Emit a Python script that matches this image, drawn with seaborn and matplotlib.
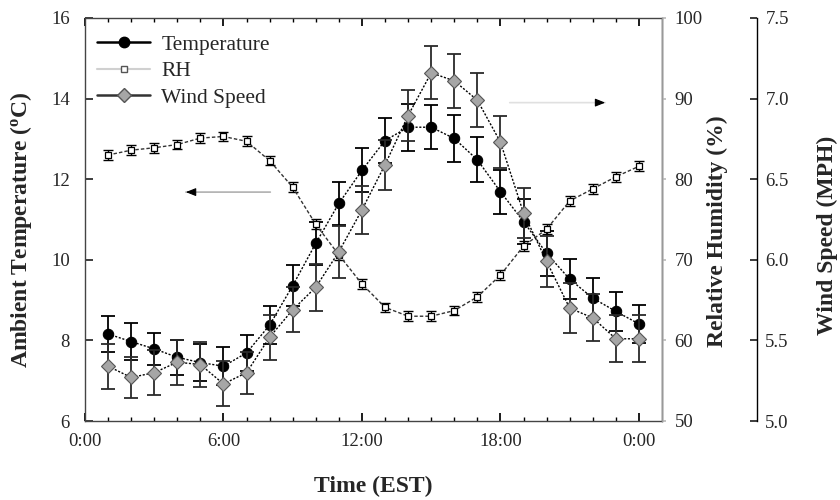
import matplotlib
matplotlib.use("Agg")
import matplotlib.pyplot as plt
from matplotlib.lines import Line2D
import seaborn as sns
import numpy as np

# ---- data ----
hours = [1, 2, 3, 4, 5, 6, 7, 8, 9, 10, 11, 12, 13, 14, 15, 16, 17, 18, 19, 20, 21, 22, 23, 24]
temperature = [8.16, 7.97, 7.79, 7.58, 7.45, 7.36, 7.69, 8.38, 9.36, 10.41, 11.40, 12.22,
               12.96, 13.29, 13.29, 13.01, 12.48, 11.69, 10.95, 10.16, 9.52, 9.05, 8.72, 8.41]
temperature_err = [0.45, 0.45, 0.40, 0.44, 0.45, 0.47, 0.45, 0.48, 0.51, 0.54, 0.53, 0.55,
                   0.55, 0.58, 0.55, 0.58, 0.56, 0.55, 0.55, 0.55, 0.50, 0.50, 0.49, 0.47]
rh = [83.0, 83.6, 83.9, 84.3, 85.1, 85.3, 84.7, 82.3, 79.0, 74.4, 70.6, 67.0,
      64.1, 63.0, 63.0, 63.7, 65.4, 68.1, 71.7, 73.8, 77.3, 78.8, 80.3, 81.6]
rh_err = [0.6, 0.6, 0.6, 0.6, 0.6, 0.6, 0.6, 0.6, 0.6, 0.6, 0.6, 0.6,
          0.6, 0.6, 0.6, 0.6, 0.6, 0.6, 0.6, 0.6, 0.6, 0.6, 0.6, 0.6]
wind = [5.34, 5.27, 5.30, 5.365, 5.35, 5.23, 5.30, 5.52, 5.69, 5.83, 6.05, 6.31,
        6.59, 6.895, 7.16, 7.11, 6.99, 6.73, 6.29, 5.99, 5.70, 5.64, 5.51, 5.51]
wind_err = [0.14, 0.13, 0.14, 0.14, 0.14, 0.14, 0.13, 0.14, 0.14, 0.145, 0.16, 0.15,
            0.155, 0.16, 0.165, 0.167, 0.167, 0.163, 0.155, 0.16, 0.155, 0.145, 0.145, 0.145]

x_tick_pos = [0, 6, 12, 18, 24]
x_tick_labels = ["0:00", "6:00", "12:00", "18:00", "0:00"]
temp_ticks = [6, 8, 10, 12, 14, 16]
rh_ticks = [50, 60, 70, 80, 90, 100]
wind_ticks = [5.0, 5.5, 6.0, 6.5, 7.0, 7.5]
series_names = ["Temperature", "RH", "Wind Speed"]

# ---- style ----
sns.set_theme(style="ticks")
plt.rcParams["font.family"] = ["Liberation Serif", "DejaVu Serif"]
plt.rcParams["mathtext.fontset"] = "custom"
plt.rcParams["mathtext.rm"] = "Liberation Serif"
plt.rcParams["mathtext.bf"] = "Liberation Serif:bold"
plt.rcParams["axes.linewidth"] = 1.0

TICK_FS = 13.5
LABEL_FS = 17

fig = plt.figure(figsize=(8.4, 5.0), dpi=100)
ax = fig.add_axes([85 / 840, 1 - 421 / 500, 577 / 840, 403 / 500])
ax2 = ax.twinx()
ax3 = ax.twinx()
ax3.spines["right"].set_position(("axes", 1.1646))

# ---- temperature (left axis) ----
ax.errorbar(hours, temperature, yerr=temperature_err, fmt="none", ecolor="black",
            elinewidth=1.3, capsize=5, capthick=1.3, zorder=2)
sns.lineplot(x=hours, y=temperature, ax=ax, color="black", linestyle=(0, (1.5, 1.2)),
             linewidth=1.0, marker="o", markersize=7.5, markerfacecolor="black",
             markeredgecolor="black", zorder=3)

# ---- RH (middle axis) ----
ax2.errorbar(hours, rh, yerr=rh_err, fmt="none", ecolor="black",
             elinewidth=1.0, capsize=3.5, capthick=1.0, zorder=2)
sns.lineplot(x=hours, y=rh, ax=ax2, color="#333333", linestyle=(0, (2.5, 1.5)),
             linewidth=1.0, marker="s", markersize=4.5, markerfacecolor="white",
             markeredgecolor="black", markeredgewidth=0.9, zorder=3)

# ---- wind speed (outer axis) ----
ax3.errorbar(hours, wind, yerr=wind_err, fmt="none", ecolor="#2a2a2a",
             elinewidth=1.3, capsize=5, capthick=1.3, zorder=2)
sns.lineplot(x=hours, y=wind, ax=ax3, color="black", linestyle=(0, (1.5, 1.2)),
             linewidth=1.0, marker="D", markersize=7, markerfacecolor="#a6a6a6",
             markeredgecolor="#555555", markeredgewidth=0.8, zorder=3)

# ---- axes settings ----
ax.set_xlim(0, 25)
ax.set_ylim(6, 16)
ax.set_xticks(x_tick_pos)
ax.set_xticklabels(x_tick_labels)
ax.set_xticks(list(range(0, 25)), minor=True)
ax.set_yticks(temp_ticks)
ax.tick_params(axis="x", which="both", direction="in", top=True, bottom=True,
               labelsize=TICK_FS, color="black", pad=9)
ax.tick_params(axis="x", which="major", length=6)
ax.tick_params(axis="x", which="minor", length=3)
ax.tick_params(axis="y", which="major", direction="in", length=6, labelsize=TICK_FS, pad=11)
ax.set_xlabel("Time (EST)", fontsize=LABEL_FS, fontweight="bold")
ax.xaxis.set_label_coords(0.5, -0.135)
ax.set_ylabel(r"Ambient Temperature ($\mathbf{^{o}}$C)", fontsize=LABEL_FS, fontweight="bold")
ax.yaxis.set_label_coords(-0.088, 0.475)
for s in ["left", "top", "bottom"]:
    ax.spines[s].set_color("#444444")

ax2.set_ylim(50, 100)
ax2.set_yticks(rh_ticks)
ax2.tick_params(axis="y", direction="out", length=3, labelsize=TICK_FS, color="#bbbbbb", pad=6)
ax2.spines["right"].set_color("#999999")
ax2.set_ylabel("Relative Humidity (%)", fontsize=LABEL_FS, fontweight="bold")
ax2.yaxis.set_label_coords(1.078, 0.47)
for s in ["left", "top", "bottom"]:
    ax2.spines[s].set_visible(False)

ax3.set_ylim(5.0, 7.5)
ax3.set_yticks(wind_ticks)
ax3.set_yticklabels([f"{v:.1f}" for v in wind_ticks])
ax3.tick_params(axis="y", direction="in", length=5, labelsize=TICK_FS, pad=6)
ax3.spines["right"].set_color("black")
ax3.set_ylabel("Wind Speed (MPH)", fontsize=LABEL_FS, fontweight="bold")
ax3.yaxis.set_label_coords(1.268, 0.46)
for s in ["left", "top", "bottom"]:
    ax3.spines[s].set_visible(False)

# ---- annotation arrows ----
ax.annotate("", xy=(4.25, 11.68), xytext=(8.15, 11.68),
            arrowprops=dict(arrowstyle="-", color="#b0b0b0", lw=1.2))
ax.annotate("", xy=(4.25, 11.68), xytext=(4.7, 11.68),
            arrowprops=dict(arrowstyle="-|>,head_length=0.5,head_width=0.2",
                            color="black", lw=0.8))
ax.annotate("", xy=(22.66, 13.90), xytext=(18.28, 13.90),
            arrowprops=dict(arrowstyle="-", color="#e0e0e0", lw=1.2))
ax.annotate("", xy=(22.66, 13.90), xytext=(22.2, 13.90),
            arrowprops=dict(arrowstyle="-|>,head_length=0.5,head_width=0.2",
                            color="black", lw=0.8))

# ---- legend ----
handles = [
    Line2D([], [], color="black", lw=1.8, marker="o", markersize=7.5,
           markerfacecolor="black", markeredgecolor="black"),
    Line2D([], [], color="#d0d0d0", lw=1.5, marker="s", markersize=5,
           markerfacecolor="white", markeredgecolor="#555555"),
    Line2D([], [], color="#333333", lw=1.8, marker="D", markersize=7,
           markerfacecolor="#a6a6a6", markeredgecolor="#555555"),
]
leg = ax3.legend(handles, series_names, loc="upper left", bbox_to_anchor=(-0.006, 0.996),
                 frameon=False, fontsize=15.5, handlelength=2.5, handletextpad=0.5,
                 labelspacing=0.3, borderaxespad=0.3)

fig.savefig("out.png", dpi=100)
